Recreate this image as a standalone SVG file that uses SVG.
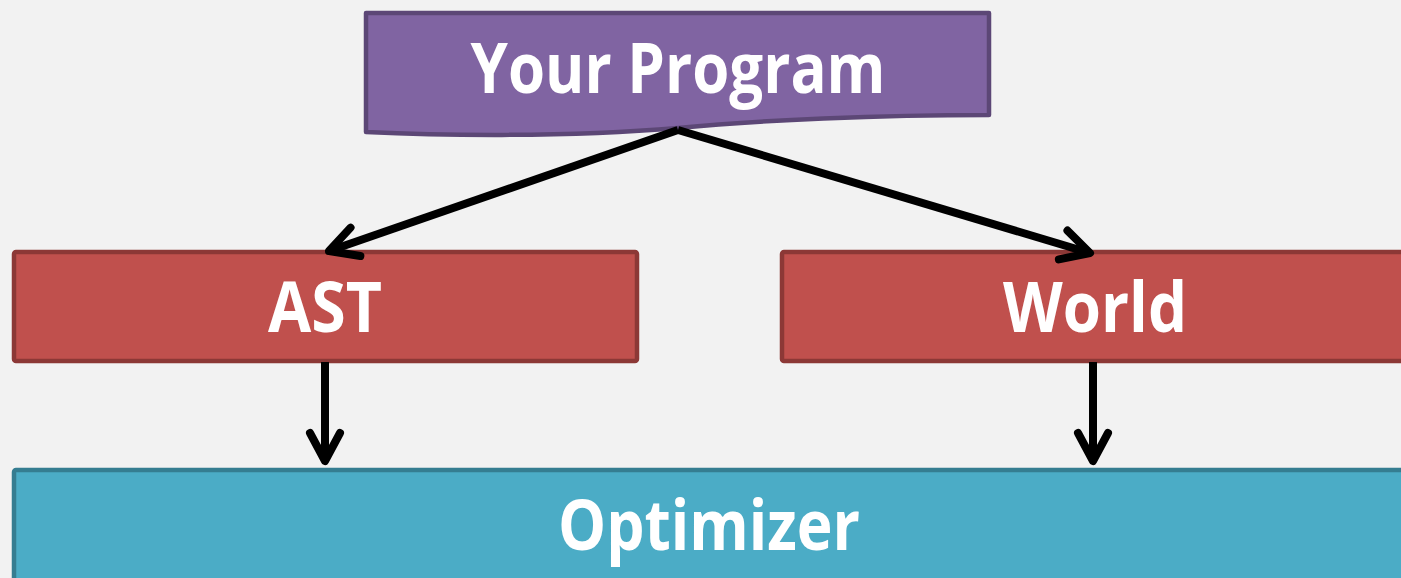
<svg xmlns="http://www.w3.org/2000/svg" width="1401" height="578" viewBox="0 0 1401 578">
<style>
.lbl{font-family:"Open Sans","Liberation Sans",sans-serif;font-weight:700;font-size:70px;fill:#FFFFFF;text-anchor:middle}
.conn{stroke:#000;stroke-width:8;fill:none}
</style>
<defs>
<marker id="ah" markerUnits="userSpaceOnUse" markerWidth="50" markerHeight="50" viewBox="-40 -25 50 50" refX="0" refY="0" orient="auto" overflow="visible">
<path d="M-28,-15 L0,0 L-28,15" fill="none" stroke="#000" stroke-width="8" stroke-linecap="round" stroke-linejoin="round"/>
</marker>
</defs>
<rect width="1401" height="578" fill="#F2F2F2"/>
<g id="your-program">
<path d="M366,13 L989,13 L989,115 C880,115 760,120 678,128 C560,138 430,135 366,132 Z" fill="#8064A2" stroke="#5C4776" stroke-width="4.5" stroke-linejoin="round"/>
<text class="lbl" x="678" y="93" textLength="415" lengthAdjust="spacingAndGlyphs">Your Program</text>
</g>
<g id="ast">
<rect x="14" y="252" width="623" height="109" rx="2" fill="#C0504D" stroke="#8C3836" stroke-width="4.5"/>
<text class="lbl" x="325" y="332" textLength="114" lengthAdjust="spacingAndGlyphs">AST</text>
</g>
<g id="world">
<rect x="782" y="252" width="640" height="109" rx="2" fill="#C0504D" stroke="#8C3836" stroke-width="4.5"/>
<text class="lbl" x="1095" y="332" textLength="184" lengthAdjust="spacingAndGlyphs">World</text>
</g>
<g id="optimizer">
<rect x="14" y="470" width="1410" height="130" rx="2" fill="#4BACC6" stroke="#357D91" stroke-width="4.5"/>
<text class="lbl" x="709" y="550" textLength="302" lengthAdjust="spacingAndGlyphs">Optimizer</text>
</g>
<g id="connectors">
<path class="conn" d="M678,130 L329,251" marker-end="url(#ah)"/>
<path class="conn" d="M678,130 L1090,253" marker-end="url(#ah)"/>
<path class="conn" d="M325,362 L325,461" marker-end="url(#ah)"/>
<path class="conn" d="M1093,362 L1093,461" marker-end="url(#ah)"/>
</g>
</svg>
